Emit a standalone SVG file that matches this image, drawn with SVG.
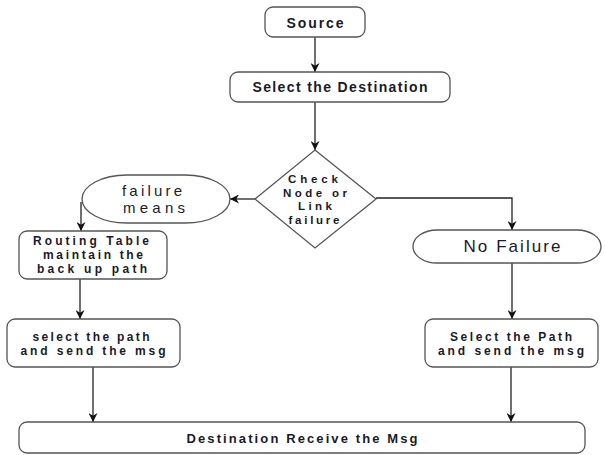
<svg xmlns="http://www.w3.org/2000/svg" width="605" height="455" viewBox="0 0 605 455">
<defs>
<marker id="arr" viewBox="0 0 10 10" refX="10" refY="5" markerWidth="9" markerHeight="9" markerUnits="userSpaceOnUse" orient="auto">
<path d="M0,0 L10,5 L0,10 L3,5 z" fill="#111"/>
</marker>
<style>
.box{fill:#fff;stroke:#555;stroke-width:1.3}
.t{font-family:"Liberation Sans",Arial,sans-serif;font-weight:bold;font-size:12px;fill:#1a1a2a;text-anchor:middle}
.r{font-family:"Liberation Sans",Arial,sans-serif;font-size:15px;fill:#1a1a2a;text-anchor:middle}
.c{fill:none;stroke:#222;stroke-width:1.3;marker-end:url(#arr)}
</style>
</defs>
<rect width="605" height="455" fill="#fff"/>
<g id="connectors">
<path class="c" d="M315,37 V72"/>
<path class="c" d="M315,102 V150"/>
<path class="c" d="M255,199 H230"/>
<path class="c" d="M376,198 H512 V230"/>
<path class="c" d="M81,202 V231"/>
<path class="c" d="M80,279 V319"/>
<path class="c" d="M93,367 V422"/>
<path class="c" d="M512,263 V319"/>
<path class="c" d="M511,367 V422"/>
</g>
<g id="source">
<rect class="box" x="265" y="7" width="100" height="30" rx="8"/>
<text class="t" x="315" y="28" style="font-size:14px" textLength="57" lengthAdjust="spacing">Source</text>
</g>
<g id="select-destination">
<rect class="box" x="230" y="72" width="220" height="30" rx="8"/>
<text class="t" x="340" y="92" style="font-size:14px" textLength="175" lengthAdjust="spacing">Select the Destination</text>
</g>
<g id="check">
<polygon class="box" points="315,150 376,199 315,248 255,199"/>
<text class="t" x="313" y="183" style="font-size:11.5px" textLength="50" lengthAdjust="spacing">Check</text>
<text class="t" x="315" y="196.5" style="font-size:11.5px" textLength="64" lengthAdjust="spacing">Node or</text>
<text class="t" x="315" y="210" style="font-size:11.5px" textLength="34" lengthAdjust="spacing">Link</text>
<text class="t" x="314" y="223.5" style="font-size:11.5px" textLength="51" lengthAdjust="spacing">failure</text>
</g>
<g id="failure-means">
<rect class="box" x="82" y="175" width="148" height="48" rx="45" ry="24"/>
<text class="r" x="152" y="196" textLength="60" lengthAdjust="spacing">failure</text>
<text class="r" x="154" y="213" textLength="62" lengthAdjust="spacing">means</text>
</g>
<g id="no-failure">
<rect class="box" x="413" y="230" width="188" height="33" rx="24" ry="16.5"/>
<text class="r" x="512" y="252" style="font-size:17px" textLength="97" lengthAdjust="spacing">No Failure</text>
</g>
<g id="routing-table">
<rect class="box" x="19" y="231" width="148" height="48" rx="8"/>
<text class="t" x="91" y="245" textLength="116" lengthAdjust="spacing">Routing Table</text>
<text class="t" x="93" y="259" textLength="100" lengthAdjust="spacing">maintain the</text>
<text class="t" x="92" y="273" textLength="110" lengthAdjust="spacing">back up path</text>
</g>
<g id="select-path-left">
<rect class="box" x="7" y="319" width="173" height="48" rx="8"/>
<text class="t" x="91" y="341" textLength="117" lengthAdjust="spacing">select the path</text>
<text class="t" x="93" y="355" textLength="145" lengthAdjust="spacing">and send the msg</text>
</g>
<g id="select-path-right">
<rect class="box" x="425" y="319" width="173" height="48" rx="8"/>
<text class="t" x="511" y="341" textLength="122" lengthAdjust="spacing">Select the Path</text>
<text class="t" x="511" y="355" textLength="146" lengthAdjust="spacing">and send the msg</text>
</g>
<g id="destination-receive">
<rect class="box" x="19" y="422" width="566" height="31" rx="8"/>
<text class="t" x="302" y="443" style="font-size:13px" textLength="231" lengthAdjust="spacing">Destination Receive the Msg</text>
</g>
</svg>
